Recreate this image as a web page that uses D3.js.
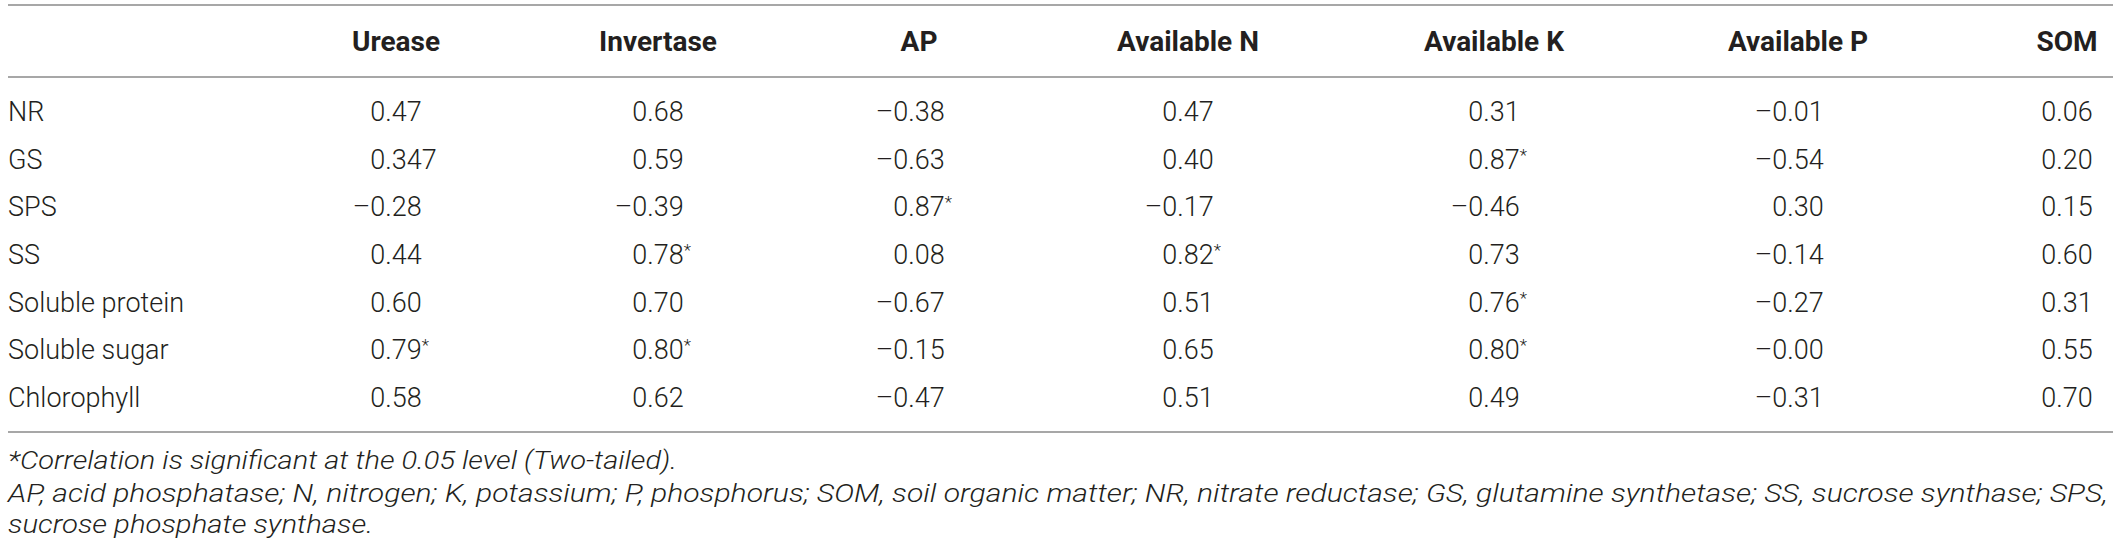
<!DOCTYPE html>
<html>
<head>
<meta charset="utf-8">
<script src="https://cdn.jsdelivr.net/npm/d3@7"></script>
<style>
  html, body { margin: 0; padding: 0; background: #fff; }
  svg { display: block; }
</style>
</head>
<body>
<svg id="chart" width="2120" height="555"></svg>
<script>
// ---------- data ----------
const columns = ["Urease", "Invertase", "AP", "Available N", "Available K", "Available P", "SOM"];
const rowLabels = ["NR", "GS", "SPS", "SS", "Soluble protein", "Soluble sugar", "Chlorophyll"];
const valuesNR        = ["0.47", "0.68", "–0.38", "0.47", "0.31", "–0.01", "0.06"];
const valuesGS        = ["0.347", "0.59", "–0.63", "0.40", "0.87", "–0.54", "0.20"];
const valuesSPS       = ["–0.28", "–0.39", "0.87", "–0.17", "–0.46", "0.30", "0.15"];
const valuesSS        = ["0.44", "0.78", "0.08", "0.82", "0.73", "–0.14", "0.60"];
const valuesProtein   = ["0.60", "0.70", "–0.67", "0.51", "0.76", "–0.27", "0.31"];
const valuesSugar     = ["0.79", "0.80", "–0.15", "0.65", "0.80", "–0.00", "0.55"];
const valuesChloro    = ["0.58", "0.62", "–0.47", "0.51", "0.49", "–0.31", "0.70"];
const sigNR      = [0, 0, 0, 0, 0, 0, 0];
const sigGS      = [0, 0, 0, 0, 1, 0, 0];
const sigSPS     = [0, 0, 1, 0, 0, 0, 0];
const sigSS      = [0, 1, 0, 1, 0, 0, 0];
const sigProtein = [0, 0, 0, 0, 1, 0, 0];
const sigSugar   = [1, 1, 0, 0, 1, 0, 0];
const sigChloro  = [0, 0, 0, 0, 0, 0, 0];
const footnotes = [
  "*Correlation is significant at the 0.05 level (Two-tailed).",
  "AP, acid phosphatase; N, nitrogen; K, potassium; P, phosphorus; SOM, soil organic matter; NR, nitrate reductase; GS, glutamine synthetase; SS, sucrose synthase; SPS,",
  "sucrose phosphate synthase."
];

const tableValues = [valuesNR, valuesGS, valuesSPS, valuesSS, valuesProtein, valuesSugar, valuesChloro];
const tableSig = [sigNR, sigGS, sigSPS, sigSS, sigProtein, sigSugar, sigChloro];

// ---------- layout ----------
const FONT = "Roboto, 'Liberation Sans', Arial, sans-serif";
const FS = 27;
const TEXT = "#231f20";
const RULE = "#a7a7a7";
const left = 8, right = 2113;

const colCenters = [396, 658, 919, 1188, 1494, 1798, 2067];
const x = d3.scaleOrdinal().domain(columns).range(colCenters);
const y = d3.scalePoint().domain(rowLabels).range([111, 397]);

const svg = d3.select("#chart");

// rules
const rules = [5, 77, 432];
svg.selectAll("line.rule").data(rules).join("line")
  .attr("class", "rule")
  .attr("x1", left).attr("x2", right)
  .attr("y1", d => d).attr("y2", d => d)
  .attr("stroke", RULE).attr("stroke-width", 2);

// header
svg.selectAll("text.head").data(columns).join("text")
  .attr("class", "head")
  .attr("x", d => x(d))
  .attr("y", 51)
  .attr("text-anchor", "middle")
  .attr("font-family", FONT).attr("font-size", 28).attr("font-weight", 700)
  .attr("fill", TEXT)
  .text(d => d);

// row labels
svg.selectAll("text.rowlab").data(rowLabels).join("text")
  .attr("class", "rowlab")
  .attr("x", left)
  .attr("y", d => y(d) + 10)
  .attr("font-family", FONT).attr("font-size", FS).attr("font-weight", 300)
  .attr("fill", TEXT)
  .text(d => d);

// measure width of a reference "0.00" for decimal alignment
const probe = svg.append("text")
  .attr("font-family", FONT).attr("font-size", FS).attr("font-weight", 300)
  .text("0.00");
const refW = probe.node().getComputedTextLength();
probe.remove();

const cells = [];
rowLabels.forEach((r, i) => {
  columns.forEach((c, j) => {
    const s = tableValues[i][j];
    const neg = s.startsWith("–");
    cells.push({ row: r, col: c, sign: neg ? "–" : "", body: neg ? s.slice(1) : s, sig: tableSig[i][j] });
  });
});

const g = svg.append("g")
  .attr("font-family", FONT).attr("font-size", FS).attr("font-weight", 300)
  .attr("fill", TEXT);

g.selectAll("text.sign").data(cells.filter(d => d.sign)).join("text")
  .attr("class", "sign")
  .attr("x", d => x(d.col) - refW / 2)
  .attr("y", d => y(d.row) + 10)
  .attr("text-anchor", "end")
  .text(d => d.sign);

const bodies = g.selectAll("text.val").data(cells).join("text")
  .attr("class", "val")
  .attr("x", d => x(d.col) - refW / 2)
  .attr("y", d => y(d.row) + 10)
  .attr("text-anchor", "start");
bodies.append("tspan").text(d => d.body);
bodies.filter(d => d.sig).append("tspan")
  .attr("font-size", 17)
  .attr("dy", -8)
  .text("*");

// footnotes
const fnY = [469, 502, 533];
const fnLen = [669, 2100, 365];
svg.selectAll("text.fn").data(footnotes).join("text")
  .attr("class", "fn")
  .attr("x", left)
  .attr("y", (d, i) => fnY[i])
  .attr("font-family", FONT).attr("font-size", 26).attr("font-weight", 300)
  .attr("font-style", "italic")
  .attr("fill", TEXT)
  .attr("textLength", (d, i) => fnLen[i])
  .attr("lengthAdjust", "spacingAndGlyphs")
  .text(d => d);
</script>
</body>
</html>
